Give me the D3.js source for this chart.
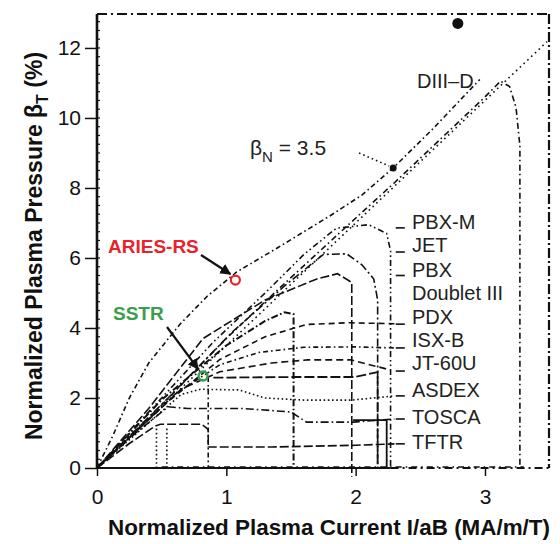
<!DOCTYPE html>
<html>
<head>
<meta charset="utf-8">
<script src="https://cdn.jsdelivr.net/npm/d3@7/dist/d3.min.js"></script>
<style>
  body { margin: 0; background: #fff; }
  text { font-family: "Liberation Sans", Arial, sans-serif; }
</style>
</head>
<body>
<div class="betaplot"></div>
<script>
// ---- data ----
var xTicks = [0, 1, 2, 3];
var yTicks = [0, 2, 4, 6, 8, 10, 12];

// operating boundaries [I/aB, beta_T]
var betaNLine = [[0, 0], [3.48, 12.18]];
var upperCurve = [[0, 0], [0.12, 0.9], [0.25, 2.0], [0.4, 3.0], [0.64, 4.1], [0.85, 4.9], [1.08, 5.6],
                  [1.4, 6.3], [1.8, 7.2], [2.05, 7.8], [2.29, 8.57], [2.6, 9.7], [2.96, 11.1]];
var diiid = [[0, 0], [0.5, 1.8], [1.0, 3.7], [1.4, 5.1], [1.9, 6.8], [2.3, 8.15], [2.7, 9.55], [3.0, 10.6],
             [3.12, 11.05], [3.19, 10.9], [3.24, 10.3], [3.27, 9.2], [3.27, 0]];
var pbxm = [[0, 0], [0.45, 1.8], [0.9, 3.6], [1.3, 5.0], [1.6, 6.1], [1.85, 6.85], [2.1, 6.95], [2.24, 6.7], [2.27, 6.2], [2.27, 0]];
var jet = [[0, 0], [0.55, 2.0], [1.05, 3.9], [1.45, 5.2], [1.75, 6.1], [1.93, 6.12], [2.05, 5.8], [2.14, 5.4], [2.17, 4.8], [2.17, 0]];
var pbx = [[0, 0], [0.4, 1.7], [0.82, 3.7], [1.3, 4.8], [1.7, 5.4], [1.86, 5.55], [1.97, 5.3], [1.97, -0.25]];
var doublet = [[0, 0], [0.5, 1.95], [1.0, 3.5], [1.3, 4.2], [1.45, 4.45], [1.52, 4.4], [1.52, 0]];
var pdx = [[0, 0], [0.55, 1.9], [0.95, 3.1], [1.3, 3.75], [1.62, 4.1], [1.95, 4.15], [2.3, 4.12]];
var isxb = [[0, 0], [0.6, 2.1], [0.95, 2.95], [1.25, 3.3], [1.6, 3.45], [2.0, 3.46], [2.3, 3.43]];
var jt60u = [[0, 0], [0.65, 2.25], [0.95, 2.75], [1.35, 3.0], [1.63, 3.09], [1.96, 3.09], [2.27, 2.8]];
var asdex = [[0, 0], [0.65, 2.1], [0.8, 2.25], [1.1, 2.23], [1.3, 2.0], [1.6, 1.94], [1.97, 1.94], [2.3, 2.06]];
var tosca = [[0, 0], [0.3, 1.0], [0.55, 1.75], [0.7, 1.7], [1.13, 1.7], [1.5, 1.6], [1.62, 1.31], [1.98, 1.31], [2.3, 1.4]];
var tftr = [[0, 0], [0.25, 0.7], [0.45, 1.2], [0.49, 1.25], [0.81, 1.25], [0.86, 1.1], [0.86, 0.6], [1.35, 0.6], [2.0, 0.65], [2.3, 0.69]];
// loose boundary pieces without a label
var extra1 = [[1.98, 1.37], [2.24, 1.37], [2.24, 0]];
var extra2 = [[0.9, 2.58], [1.52, 2.6], [1.99, 2.6], [2.17, 2.74], [2.17, 0]];
var extra3 = [[0.86, 2.6], [0.86, 0]];
var extra4 = [[0.46, 0], [0.46, 1.2]];
var extra5 = [[0.54, 0], [0.54, 1.15]];
var extra6 = [[0.5, 0.03], [3.3, 0.03]];

var machines = ["PBX-M", "JET", "PBX", "Doublet III", "PDX", "ISX-B", "JT-60U", "ASDEX", "TOSCA", "TFTR"];
var labelY = [7.03, 6.37, 5.66, 5.0, 4.31, 3.66, 3.0, 2.23, 1.46, 0.74];
var leaderY = [6.86, 6.17, 5.5, null, 4.11, 3.43, 2.77, 2.06, 1.4, 0.69];

var aries = [1.07, 5.37];
var sstr = [0.82, 2.63];
var dotTop = [2.79, 12.7];
var dotBetaN = [2.29, 8.57];

// ---- layout ----
var margin = {top: 14, right: 11, bottom: 76, left: 97},
    width = 560 - margin.left - margin.right,
    height = 544 - margin.top - margin.bottom;

var svg = d3.select(".betaplot")
  .append("svg")
  .attr("width", 560)
  .attr("height", 544)
  .append("g")
  .attr("transform", "translate(" + margin.left + "," + margin.top + ")");

var x = d3.scaleLinear().domain([0, 3.495]).range([0, width]);
var y = d3.scaleLinear().domain([0, 12.97]).range([height, 0]);

var line = d3.line().x(function(d) { return x(d[0]); }).y(function(d) { return y(d[1]); });

// curves: data, dash pattern, width
var curves = [
  [betaNLine, "1.6,3.6", 1.6],
  [upperCurve, "5,3,1.6,3", 1.6],
  [diiid, "1.6,3.4,6,3", 1.6],
  [pbxm, "6,3,1.6,3,1.6,3", 1.6],
  [jet, "8,3,2,3", 1.6],
  [pbx, "9,3", 1.6],
  [doublet, "7,2.5,1.6,2.5", 2],
  [pdx, "6,4", 1.6],
  [isxb, "1.6,3,5,3", 1.6],
  [jt60u, "7,4", 1.6],
  [asdex, "1.6,2.6", 1.6],
  [tosca, "8,3,1.6,3", 1.6],
  [tftr, "9,3", 1.6],
  [extra1, null, 1.8],
  [extra2, "10,3", 1.8],
  [extra3, "5,3,1.6,3", 1.6],
  [extra4, "1.6,2.6", 1.6],
  [extra5, "1.6,2.6", 1.6],
  [extra6, "6,4,1.6,4", 1.6]
];

svg.selectAll("path.curve")
  .data(curves)
  .enter()
  .append("path")
  .attr("class", "curve")
  .attr("d", function(d) { return line(d[0]); })
  .attr("fill", "none")
  .attr("stroke", "#111")
  .attr("stroke-width", function(d) { return d[2]; })
  .attr("stroke-dasharray", function(d) { return d[1]; });

// frame: top and right dash-dot, left and bottom axis lines
svg.append("line")
  .attr("x1", 0).attr("x2", width).attr("y1", 0).attr("y2", 0)
  .attr("stroke", "#111").attr("stroke-width", 2).attr("stroke-dasharray", "10,4,2,4");
svg.append("line")
  .attr("x1", width).attr("x2", width).attr("y1", 0).attr("y2", height)
  .attr("stroke", "#111").attr("stroke-width", 2.2).attr("stroke-dasharray", "10,3,2,3");
svg.append("line")
  .attr("x1", 0).attr("x2", 0).attr("y1", 0).attr("y2", height)
  .attr("stroke", "#111").attr("stroke-width", 2.6);
svg.append("line")
  .attr("x1", 0).attr("x2", x(2.27)).attr("y1", height).attr("y2", height)
  .attr("stroke", "#111").attr("stroke-width", 2);
svg.append("line")
  .attr("x1", x(2.27)).attr("x2", width).attr("y1", height).attr("y2", height)
  .attr("stroke", "#111").attr("stroke-width", 2).attr("stroke-dasharray", "8,4,2,4");

// axes
var xAxis = svg.append("g")
  .attr("transform", "translate(0," + height + ")")
  .call(d3.axisBottom(x).tickValues(xTicks).tickSize(8).tickPadding(13).tickFormat(d3.format("d")));
var yAxis = svg.append("g")
  .call(d3.axisLeft(y).tickValues(yTicks).tickSize(12).tickPadding(4).tickFormat(d3.format("d")));
[xAxis, yAxis].forEach(function(a) {
  a.select(".domain").remove();
  a.selectAll(".tick line").attr("stroke", "#111").attr("stroke-width", 1.5);
  a.selectAll(".tick text")
    .attr("font-family", "'Liberation Sans', Arial, sans-serif")
    .attr("font-size", "21px")
    .attr("fill", "#111");
});

// minor inward ticks on left axis
svg.selectAll("line.minor")
  .data(d3.range(0, 12.9, 0.25))
  .enter()
  .append("line")
  .attr("class", "minor")
  .attr("x1", 0).attr("x2", 3)
  .attr("y1", function(d) { return y(d); })
  .attr("y2", function(d) { return y(d); })
  .attr("stroke", "#111").attr("stroke-width", 1.2);

// machine labels with short leaders
svg.selectAll("text.machine")
  .data(machines)
  .enter()
  .append("text")
  .attr("class", "machine")
  .attr("x", 315)
  .attr("y", function(d, i) { return y(labelY[i]); })
  .attr("dy", "0.36em")
  .attr("font-size", "20px")
  .attr("fill", "#222")
  .text(function(d) { return d; });

svg.selectAll("line.leader")
  .data(leaderY.filter(function(d) { return d !== null; }))
  .enter()
  .append("line")
  .attr("class", "leader")
  .attr("x1", x(2.31)).attr("x2", x(2.38))
  .attr("y1", function(d) { return y(d); })
  .attr("y2", function(d) { return y(d); })
  .attr("stroke", "#111").attr("stroke-width", 1.6);

svg.append("text")
  .attr("x", 320).attr("y", y(11.05)).attr("dy", "0.36em")
  .attr("font-size", "20px").attr("fill", "#222")
  .text("DIII\u2013D");

// beta_N label with dotted pointer
var bn = svg.append("text")
  .attr("x", 153).attr("y", 141)
  .attr("font-size", "21px").attr("fill", "#222");
bn.append("tspan").text("\u03b2");
bn.append("tspan").attr("dy", 7).attr("font-size", "15px").text("N");
bn.append("tspan").attr("dy", -7).text(" = 3.5");
svg.append("line")
  .attr("x1", 262).attr("y1", 139)
  .attr("x2", x(dotBetaN[0]) - 4).attr("y2", y(dotBetaN[1]) - 2)
  .attr("stroke", "#111").attr("stroke-width", 1.6).attr("stroke-dasharray", "1.6,3");

// dots
svg.append("circle")
  .attr("cx", x(dotTop[0])).attr("cy", y(dotTop[1])).attr("r", 5.5).attr("fill", "#111");
svg.append("circle")
  .attr("cx", x(dotBetaN[0])).attr("cy", y(dotBetaN[1])).attr("r", 3.5).attr("fill", "#111");

// arrowhead
svg.append("defs").append("marker")
  .attr("id", "arr").attr("viewBox", "0 0 10 10").attr("refX", 9).attr("refY", 5)
  .attr("markerWidth", 5).attr("markerHeight", 5).attr("orient", "auto")
  .append("path").attr("d", "M0,0L10,5L0,10z").attr("fill", "#111");

// ARIES-RS
svg.append("text")
  .attr("x", 11).attr("y", 239)
  .attr("font-size", "19px").attr("font-weight", "bold").attr("fill", "#e8232b")
  .text("ARIES-RS");
svg.append("line")
  .attr("x1", 104).attr("y1", 241)
  .attr("x2", x(aries[0]) - 5).attr("y2", y(aries[1]) - 6)
  .attr("stroke", "#111").attr("stroke-width", 2.2).attr("marker-end", "url(#arr)");
svg.append("circle")
  .attr("cx", x(aries[0])).attr("cy", y(aries[1])).attr("r", 4.5)
  .attr("fill", "none").attr("stroke", "#e8232b").attr("stroke-width", 2.2);

// SSTR
svg.append("text")
  .attr("x", 16).attr("y", 306)
  .attr("font-size", "19px").attr("font-weight", "bold").attr("fill", "#3a9e4a")
  .text("SSTR");
svg.append("line")
  .attr("x1", 70).attr("y1", 313)
  .attr("x2", x(sstr[0]) - 5).attr("y2", y(sstr[1]) - 7)
  .attr("stroke", "#111").attr("stroke-width", 2.2).attr("marker-end", "url(#arr)");
svg.append("circle")
  .attr("cx", x(sstr[0])).attr("cy", y(sstr[1])).attr("r", 4.5)
  .attr("fill", "none").attr("stroke", "#3a9e4a").attr("stroke-width", 2.4);

// axis titles
svg.append("text")
  .attr("x", 11).attr("y", height + 67)
  .attr("font-size", "22px").attr("font-weight", "bold").attr("fill", "#111")
  .attr("textLength", 442).attr("lengthAdjust", "spacingAndGlyphs")
  .text("Normalized Plasma Current I/aB (MA/m/T)");

var yt = svg.append("text")
  .attr("transform", "translate(-55,232) rotate(-90)")
  .attr("text-anchor", "middle")
  .attr("font-size", "23px").attr("font-weight", "bold").attr("fill", "#111");
yt.append("tspan").text("Normalized Plasma Pressure \u03b2");
yt.append("tspan").attr("dy", 6).attr("font-size", "16px").text("T");
yt.append("tspan").attr("dy", -6).text(" (%)");
</script>
</body>
</html>
